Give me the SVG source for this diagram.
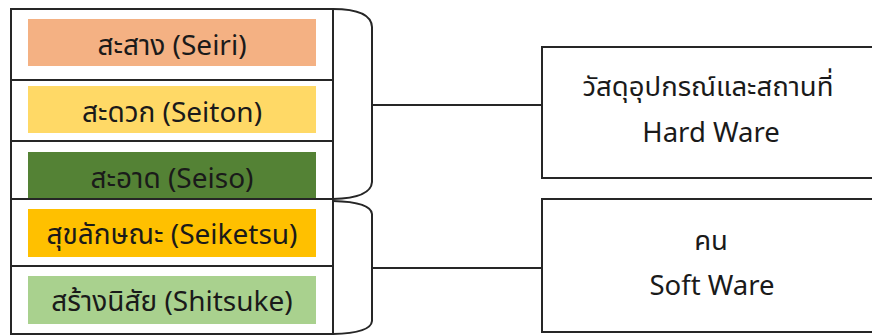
<svg xmlns="http://www.w3.org/2000/svg" width="872" height="336" viewBox="0 0 872 336">
<style>
.frame{fill:#ffffff;stroke:#262626;stroke-width:2}
.line{fill:none;stroke:#262626;stroke-width:2}
.t{font-family:"Noto Sans","Noto Sans Thai","Leelawadee UI",Tahoma,"DejaVu Sans",sans-serif;font-size:28px;fill:#1a1a1a;text-anchor:middle}
.r{font-size:27.5px}
</style>
<rect width="872" height="336" fill="#ffffff"/>
<g id="left-column">
<rect class="frame" x="11" y="9" width="322" height="325"/>
</g>
<g id="seiri">
<rect x="28" y="19" width="288" height="47" fill="#F4B183"/>
<text class="t" x="172" y="55">สะสาง (Seiri)</text>
</g>
<g id="seiton">
<line class="line" x1="11" y1="80" x2="333" y2="80"/>
<rect x="28" y="86" width="288" height="47" fill="#FFD966"/>
<text class="t" x="172" y="122">สะดวก (Seiton)</text>
</g>
<g id="seiso">
<line class="line" x1="11" y1="141" x2="333" y2="141"/>
<rect x="28" y="152" width="288" height="47" fill="#548235"/>
<text class="t" x="172" y="188">สะอาด (Seiso)</text>
</g>
<g id="seiketsu">
<line class="line" x1="11" y1="199" x2="333" y2="199"/>
<rect x="28" y="209" width="288" height="48" fill="#FFC000"/>
<text class="t" x="172" y="244">สุขลักษณะ (Seiketsu)</text>
</g>
<g id="shitsuke">
<line class="line" x1="11" y1="266" x2="333" y2="266"/>
<rect x="28" y="276" width="288" height="48" fill="#A9D18E"/>
<text class="t" x="172" y="311">สร้างนิสัย (Shitsuke)</text>
</g>
<g id="hardware">
<rect class="frame" x="542" y="47" width="340" height="131"/>
<text class="t r" x="708" y="96">วัสดุอุปกรณ์และสถานที่</text>
<text class="t r" x="711" y="142">Hard Ware</text>
</g>
<g id="software">
<rect class="frame" x="542" y="199" width="340" height="133"/>
<text class="t r" x="711" y="250">คน</text>
<text class="t r" x="712" y="295">Soft Ware</text>
</g>
<g id="connectors">
<path class="line" d="M333,9 Q371,9 372,27 L372,182 Q371,198 333,199"/>
<path class="line" d="M333,201 Q371,202 372,214 L372,321 Q371,333 333,334"/>
<line class="line" x1="372" y1="105" x2="542" y2="105"/>
<line class="line" x1="372" y1="268" x2="542" y2="268"/>
</g>
</svg>
